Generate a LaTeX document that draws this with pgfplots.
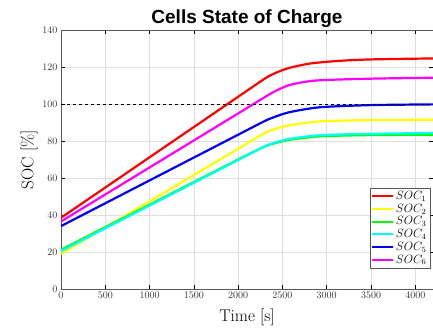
\documentclass[border=0pt]{standalone}
\usepackage{fontspec}
\usepackage{pgfplots}
\pgfplotsset{compat=1.18}
\newfontfamily\titlefont{Liberation Sans}
\definecolor{cR}{RGB}{255,0,0}
\definecolor{cY}{RGB}{255,255,0}
\definecolor{cG}{RGB}{0,255,0}
\definecolor{cC}{RGB}{0,255,255}
\definecolor{cB}{RGB}{0,0,255}
\definecolor{cM}{RGB}{255,0,255}
\begin{document}
\begin{tikzpicture}
\begin{axis}[
  scale only axis, width=372pt, height=259pt,
  at={(0,0)}, anchor=south west,
  xmin=0, xmax=4200, ymin=0, ymax=140,
  xtick={0,500,...,4000}, ytick={0,20,...,140},
  grid=major, major grid style={gray!25, line width=0.6pt},
  tick align=inside, axis line style={gray!70!black, line width=0.8pt},
  major tick length=4pt,
  tick style={black, line width=0.6pt},
  ticklabel style={font=\fontsize{10}{12}\selectfont, text=black!80},
  scaled x ticks=false,
  xticklabel style={/pgf/number format/1000 sep={}},
  xlabel={Time [s]}, ylabel={SOC [\%]},
  xlabel style={font=\fontsize{17}{20}\selectfont, yshift=-3pt},
  ylabel style={font=\fontsize{17}{20}\selectfont, yshift=-2pt},
  title={\titlefont\bfseries Cells State of Charge},
  title style={font=\fontsize{19}{22}\selectfont, yshift=-7pt},
  legend style={at={(rel axis cs:0.992,0.08)}, anchor=south east, font=\fontsize{11.5}{13}\selectfont,
    draw=gray!70!black, row sep=-1pt, inner sep=1.5pt, cells={anchor=west}},
  legend cell align=left,
  legend image code/.code={\draw[#1, line width=2.1pt] (0cm,0cm) -- (0.72cm,0cm);},
  every axis plot/.append style={line width=2.2pt},
]
\addplot[cR, smooth] coordinates {(0,38.5) (1000,71.2) (2000,103.9) (2300,113.7) (2400,116.3) (2500,118.3) (2600,119.8) (2800,121.8) (3000,122.8) (3200,123.5) (3500,124.1) (4000,124.5) (4200,124.6)};
\addplot[cY, smooth] coordinates {(0,19) (1000,47.4) (2000,75.8) (2300,84.3) (2400,86.2) (2500,87.7) (2600,88.7) (2800,90.0) (3000,90.8) (3500,91.3) (4200,91.5)};
\addplot[cG, smooth] coordinates {(0,21.2) (1000,45.6) (2000,70.0) (2300,77.0) (2400,78.6) (2500,79.8) (2600,80.8) (2800,82.0) (3000,82.7) (3500,83.2) (4200,83.4)};
\addplot[cC, smooth] coordinates {(0,20.5) (1000,45.1) (2000,69.7) (2300,77.1) (2400,78.9) (2500,80.3) (2600,81.3) (2800,82.6) (3000,83.3) (3500,83.9) (4200,84.3)};
\addplot[cB, smooth] coordinates {(0,34) (1000,58.7) (2000,83.4) (2300,90.8) (2400,92.8) (2500,94.5) (2600,95.8) (2800,97.5) (3000,98.5) (3500,99.4) (4200,99.8)};
\addplot[cM, smooth] coordinates {(0,36.5) (1000,65.7) (2000,94.9) (2300,103.7) (2400,106.5) (2500,108.8) (2600,110.5) (2800,112.3) (3000,113.0) (3500,113.7) (4200,114.2)};
\addplot[black, dashed, line width=0.7pt, forget plot] coordinates {(0,100) (4200,100)};
\legend{$SOC_1$,$SOC_2$,$SOC_3$,$SOC_4$,$SOC_5$,$SOC_6$}
\end{axis}
\pgfresetboundingbox
\path[use as bounding box] (-61pt,-41pt) rectangle (372pt,289pt);
\end{tikzpicture}
\end{document}
